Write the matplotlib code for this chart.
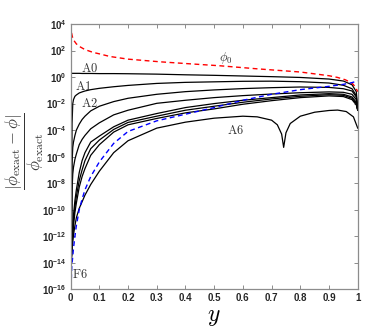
import numpy as np
import matplotlib
matplotlib.use("Agg")
import matplotlib.pyplot as plt
from matplotlib.ticker import NullLocator

plt.rcParams['font.family'] = ['Liberation Sans', 'DejaVu Sans']
plt.rcParams['mathtext.fontset'] = 'cm'

# shared y grid for the A-curves (values below are log10 of the relative error)
y_grid = [0.003, 0.005, 0.0075, 0.01, 0.015, 0.02, 0.03, 0.04, 0.05, 0.07, 0.1,
          0.15, 0.2, 0.3, 0.4, 0.5, 0.6, 0.7, 0.8, 0.9, 0.95, 0.98, 0.995, 1.0]

a0 = [0.28, 0.28, 0.28, 0.28, 0.28, 0.28, 0.28, 0.27, 0.27, 0.27, 0.26,
      0.26, 0.25, 0.22, 0.17, 0.13, 0.08, 0.03, -0.03, -0.15, -0.3, -0.58, -1.1, -2.5]
a1 = [-13.2, -3.5, -2.0, -1.7, -1.45, -1.35, -1.2, -1.12, -1.05, -0.95, -0.85,
      -0.73, -0.63, -0.48, -0.4, -0.36, -0.32, -0.31, -0.35, -0.45, -0.62, -0.88, -1.4, -2.5]
a2 = [-13.2, -6.5, -5.3, -4.9, -4.4, -4.0, -3.55, -3.2, -2.95, -2.55, -2.2,
      -1.85, -1.6, -1.3, -1.1, -0.97, -0.87, -0.8, -0.75, -0.78, -0.88, -1.05, -1.5, -2.5]
a3 = [-13.4, -8.5, -7.3, -6.8, -6.2, -5.8, -5.1, -4.7, -4.4, -3.9, -3.45,
      -2.85, -2.5, -1.98, -1.75, -1.55, -1.4, -1.28, -1.18, -1.12, -1.15, -1.3, -1.7, -2.5]
a4 = [-13.5, -12.3, -11.2, -10.4, -9.3, -8.5, -7.2, -6.3, -5.7, -4.9, -4.45,
      -3.75, -3.25, -2.75, -2.3, -2.0, -1.75, -1.55, -1.35, -1.25, -1.3, -1.5, -1.9, -2.5]
a5 = [-13.6, -12.6, -11.6, -10.8, -9.8, -9.0, -7.8, -7.0, -6.3, -5.4, -4.75,
      -3.95, -3.42, -2.95, -2.5, -2.2, -1.9, -1.65, -1.45, -1.33, -1.38, -1.6, -2.0, -2.5]
a5b = [-13.7, -12.9, -12.0, -11.2, -10.2, -9.5, -8.3, -7.5, -6.9, -5.9, -5.1,
       -4.15, -3.6, -3.12, -2.7, -2.4, -2.05, -1.78, -1.55, -1.42, -1.47, -1.7, -2.1, -2.5]

y_a6 = [0.003, 0.005, 0.0075, 0.01, 0.015, 0.02, 0.03, 0.04, 0.05, 0.07, 0.1, 0.15,
        0.2, 0.3, 0.4, 0.5, 0.6, 0.65, 0.7, 0.72, 0.735, 0.742, 0.75, 0.765, 0.8,
        0.85, 0.9, 0.93, 0.96, 0.985, 1.0]
a6 = [-13.5, -13.0, -12.4, -11.9, -11.2, -10.6, -9.9, -9.4, -8.9, -8.1, -7.1, -5.7,
      -4.8, -3.85, -3.4, -3.1, -2.95, -3.0, -3.25, -3.6, -4.3, -5.3, -4.2, -3.5, -2.95,
      -2.65, -2.52, -2.49, -2.6, -3.0, -3.85]

y_f6 = [0.0, 0.002, 0.004, 0.0075, 0.01, 0.015, 0.02, 0.03, 0.04, 0.05, 0.07, 0.1,
        0.15, 0.2, 0.3, 0.4, 0.5, 0.6, 0.7, 0.8, 0.9, 0.95, 0.98, 0.995, 1.0]
f6 = [-16.5, -15.5, -14.3, -13.5, -12.9, -12.0, -11.2, -10.0, -9.2, -8.5, -7.5, -6.4,
      -5.0, -4.1, -3.3, -2.8, -2.3, -1.75, -1.3, -0.95, -0.7, -0.55, -0.42, -0.32, -0.28]

y_phi0 = [0.001, 0.003, 0.006, 0.01, 0.02, 0.032, 0.05, 0.078, 0.1, 0.137, 0.2, 0.311,
          0.4, 0.52, 0.65, 0.8, 0.9, 0.93, 0.956, 0.98, 0.99, 1.0]
phi0 = [3.95, 3.35, 3.05, 2.8, 2.5, 2.29, 2.07, 1.86, 1.75, 1.55, 1.35, 1.15,
        1.02, 0.85, 0.62, 0.38, 0.1, -0.03, -0.2, -0.45, -0.7, -1.1]

fig = plt.figure(figsize=(3.88, 3.30), dpi=100)
ax = fig.add_axes([0.182, 0.1233, 0.74, 0.804])

for curve in [a0, a1, a2, a3, a4, a5, a5b]:
    ax.semilogy(y_grid, 10.0 ** np.array(curve), color='black', lw=0.9)
ax.semilogy(y_a6, 10.0 ** np.array(a6), color='black', lw=0.9)
ax.semilogy(y_phi0, 10.0 ** np.array(phi0), color='red', lw=1.0, dashes=(3.5, 2.5))
ax.semilogy(y_f6, 10.0 ** np.array(f6), color='blue', lw=1.0, dashes=(3.5, 2.5))

lbl = dict(fontsize=9, color='#333333', ha='center', va='center')
ax.text(0.067, 10 ** 0.62, r'$\mathrm{A0}$', **lbl)
ax.text(0.044, 10 ** -0.73, r'$\mathrm{A1}$', **lbl)
ax.text(0.067, 10 ** -1.98, r'$\mathrm{A2}$', **lbl)
ax.text(0.573, 10 ** -4.05, r'$\mathrm{A6}$', **lbl)
ax.text(0.034, 10 ** -14.9, r'$\mathrm{F6}$', **lbl)
ax.text(0.54, 10 ** 1.45, r'$\phi_0$', **lbl)

ax.set_xlim(0, 1)
ax.set_ylim(1e-16, 1e4)
ax.set_xticks(np.arange(0, 1.01, 0.1))
ax.set_xticklabels(['0', '0.1', '0.2', '0.3', '0.4', '0.5', '0.6', '0.7', '0.8', '0.9', '1'])
ax.set_yticks([10.0 ** k for k in range(-16, 5, 2)])
ax.yaxis.set_minor_locator(NullLocator())

for s in ax.spines.values():
    s.set_color('#8c8c8c')
    s.set_linewidth(0.9)
ax.tick_params(direction='in', length=3, width=0.7, color='#8c8c8c',
               top=True, right=True, labelsize=7, labelcolor='#262626', pad=3)
for t in ax.get_xticklabels() + ax.get_yticklabels():
    t.set_fontweight('bold')

ax.set_xlabel(r'$y$', fontsize=17, labelpad=2)
ax.set_ylabel(r'$\dfrac{|\phi_{\rm exact}-\phi|}{\phi_{\rm exact}}$', fontsize=12,
              color='#333333')
ax.yaxis.set_label_coords(-0.085, 0.52)

fig.savefig('out.png', dpi=100)
